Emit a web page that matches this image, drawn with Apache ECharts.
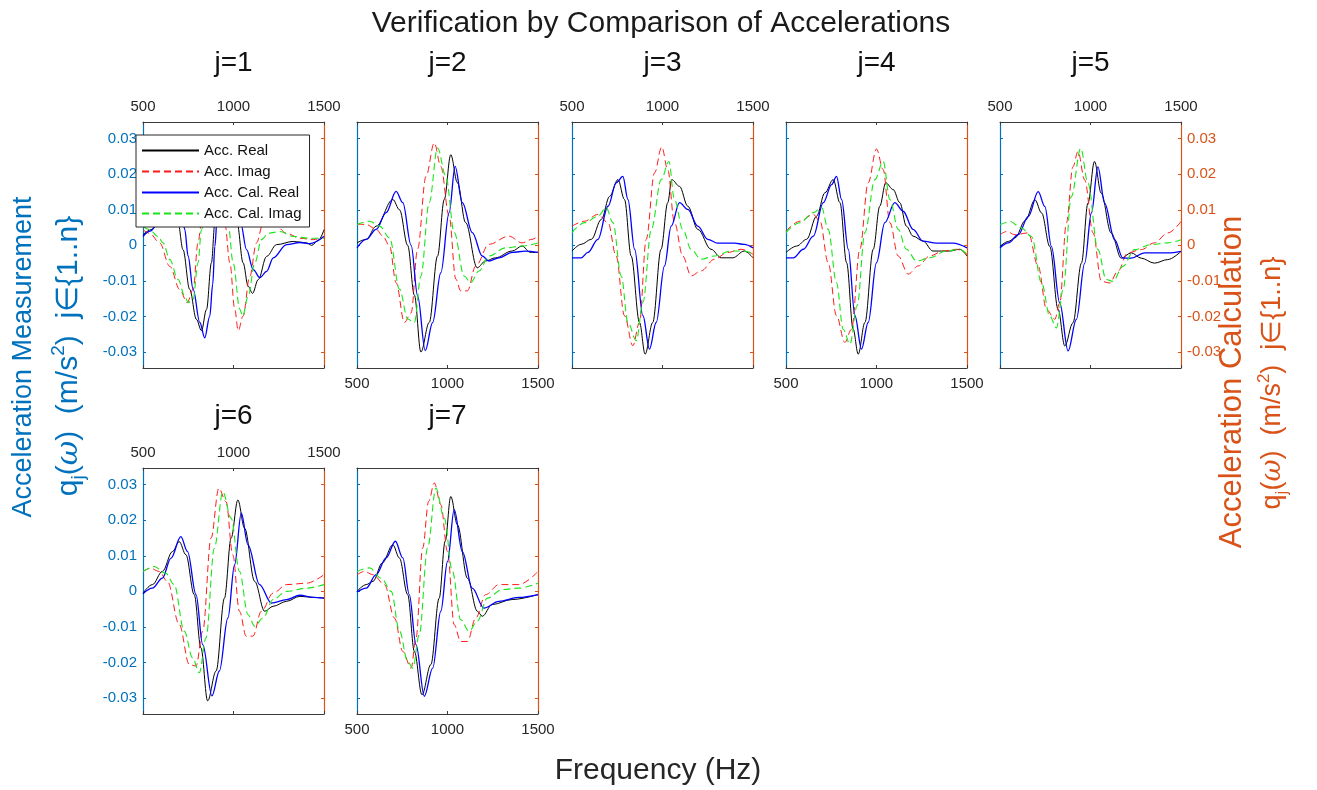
<!DOCTYPE html>
<html>
<head>
<meta charset="utf-8">
<title>Verification by Comparison of Accelerations</title>
<script src="https://cdn.jsdelivr.net/npm/echarts@6/dist/echarts.min.js"></script>
<style>
  html, body { margin: 0; padding: 0; background: #ffffff; }
  #chart { width: 1317px; height: 790px; }
</style>
</head>
<body>
<div id="chart"></div>
<script>
// ---- data: [frequency (Hz), acceleration (m/s^2)] per mode j ----
const realJ1 = [[500,0.0030],[550,0.0045],[600,0.0075],[640,0.0095],[665,0.0100],[694,0.0062],[721,-0.0012],[758,-0.0124],[795,-0.0208],[823,-0.0240],[851,-0.0180],[878,-0.0049],[897,0.0062],[930,0.0180],[960,0.0220],[990,0.0170],[1020,0.0062],[1053,-0.0049],[1081,-0.0115],[1105,-0.0135],[1137,-0.0096],[1183,-0.0031],[1238,0.0002],[1330,0.0011],[1404,0.0007],[1432,0.0000],[1470,0.0015],[1500,0.0044]];
const imagJ1 = [[500,0.0044],[537,0.0034],[592,0.0007],[648,-0.0059],[703,-0.0124],[744,-0.0161],[777,-0.0124],[804,0.0007],[823,0.0062],[850,0.0200],[880,0.0250],[915,0.0200],[952,0.0062],[980,-0.0049],[1007,-0.0180],[1026,-0.0240],[1053,-0.0199],[1090,-0.0087],[1127,0.0007],[1164,0.0062],[1185,0.0072],[1238,0.0053],[1293,0.0034],[1367,0.0020],[1441,0.0016],[1500,0.0025]];
const calRealJ1 = [[500,0.0025],[540,0.0040],[583,0.0062],[630,0.0110],[680,0.0135],[715,0.0090],[731,0.0044],[749,-0.0030],[777,-0.0124],[814,-0.0217],[841,-0.0260],[869,-0.0199],[885,-0.0110],[897,-0.0003],[910,0.0080],[950,0.0200],[985,0.0230],[1015,0.0170],[1040,0.0062],[1072,-0.0012],[1109,-0.0068],[1146,-0.0091],[1183,-0.0073],[1220,-0.0035],[1293,0.0002],[1367,0.0008],[1422,0.0005],[1500,0.0025]];
const calImagJ1 = [[500,0.0053],[537,0.0044],[583,0.0025],[611,0.0007],[648,-0.0040],[694,-0.0096],[731,-0.0143],[749,-0.0161],[777,-0.0152],[804,-0.0049],[823,0.0044],[860,0.0180],[900,0.0230],[940,0.0170],[970,0.0062],[998,-0.0049],[1035,-0.0180],[1050,-0.0199],[1081,-0.0143],[1118,-0.0049],[1155,0.0016],[1192,0.0034],[1256,0.0039],[1330,0.0025],[1422,0.0020],[1500,0.0020]];

const realJ2 = [[500,0.0007],[551,0.0017],[606,0.0054],[698,0.0129],[735,0.0100],[780,0.0000],[817,-0.0140],[853,-0.0300],[899,-0.0217],[945,-0.0030],[982,0.0129],[1018,0.0255],[1055,0.0176],[1100,0.0064],[1164,-0.0063],[1210,-0.0044],[1265,-0.0035],[1357,-0.0016],[1412,-0.0002],[1458,-0.0020],[1500,-0.0020]];
const imagJ2 = [[500,0.0059],[551,0.0059],[606,0.0045],[643,0.0026],[680,-0.0002],[716,-0.0105],[762,-0.0217],[799,-0.0190],[835,-0.0010],[881,0.0194],[927,0.0288],[963,0.0222],[1009,0.0082],[1046,-0.0095],[1073,-0.0128],[1110,-0.0128],[1156,-0.0058],[1229,0.0003],[1339,0.0026],[1412,0.0007],[1467,0.0017],[1500,0.0026]];
const calRealJ2 = [[500,-0.0007],[551,0.0017],[606,0.0045],[661,0.0092],[716,0.0152],[753,0.0120],[799,0.0000],[835,-0.0142],[877,-0.0296],[918,-0.0217],[963,-0.0077],[1009,0.0092],[1042,0.0222],[1082,0.0120],[1137,0.0036],[1192,-0.0030],[1229,-0.0044],[1284,-0.0035],[1357,-0.0020],[1430,-0.0016],[1500,-0.0020]];
const calImagJ2 = [[500,0.0059],[570,0.0068],[625,0.0054],[680,0.0021],[735,-0.0123],[780,-0.0207],[817,-0.0217],[853,-0.0086],[899,0.0120],[945,0.0274],[991,0.0194],[1037,0.0036],[1092,-0.0086],[1128,-0.0105],[1174,-0.0072],[1229,-0.0030],[1320,-0.0007],[1412,-0.0002],[1500,0.0007]];

const realJ3 = [[500,-0.0016],[551,0.0003],[607,0.0017],[662,0.0073],[708,0.0138],[754,0.0185],[790,0.0129],[827,-0.0030],[873,-0.0217],[904,-0.0306],[946,-0.0217],[992,-0.0011],[1029,0.0120],[1051,0.0185],[1094,0.0166],[1140,0.0110],[1195,0.0045],[1268,-0.0011],[1324,-0.0035],[1388,-0.0035],[1452,-0.0016],[1500,-0.0035]];
const imagJ3 = [[500,0.0054],[570,0.0068],[643,0.0087],[699,0.0064],[744,-0.0030],[790,-0.0198],[836,-0.0282],[873,-0.0217],[910,0.0017],[956,0.0204],[996,0.0277],[1029,0.0213],[1066,0.0064],[1112,-0.0030],[1158,-0.0086],[1213,-0.0072],[1287,-0.0039],[1360,-0.0020],[1434,-0.0011],[1500,-0.0025]];
const calRealJ3 = [[500,-0.0035],[551,-0.0035],[588,-0.0020],[643,0.0017],[699,0.0110],[744,0.0176],[781,0.0194],[809,0.0129],[846,-0.0011],[892,-0.0198],[928,-0.0292],[965,-0.0217],[1011,-0.0058],[1048,0.0054],[1094,0.0120],[1140,0.0101],[1195,0.0054],[1250,0.0017],[1305,0.0006],[1397,0.0006],[1452,0.0003],[1500,-0.0007]];
const calImagJ3 = [[500,0.0036],[570,0.0064],[643,0.0082],[689,0.0106],[726,0.0064],[772,-0.0086],[809,-0.0217],[855,-0.0268],[892,-0.0160],[938,0.0045],[993,0.0185],[1035,0.0236],[1066,0.0129],[1112,0.0045],[1158,-0.0011],[1213,-0.0039],[1287,-0.0030],[1379,-0.0016],[1452,-0.0016],[1500,-0.0025]];

const realJ4 = [[500,-0.0020],[559,-0.0002],[614,0.0017],[669,0.0082],[715,0.0148],[761,0.0185],[798,0.0120],[835,-0.0049],[871,-0.0236],[899,-0.0306],[936,-0.0217],[982,-0.0011],[1018,0.0110],[1051,0.0176],[1092,0.0157],[1129,0.0120],[1165,0.0054],[1202,0.0026],[1257,0.0012],[1312,-0.0016],[1404,-0.0016],[1460,-0.0011],[1500,-0.0030]];
const imagJ4 = [[500,0.0040],[577,0.0068],[651,0.0087],[688,0.0068],[733,-0.0049],[779,-0.0198],[825,-0.0273],[862,-0.0236],[908,-0.0011],[954,0.0176],[1000,0.0271],[1037,0.0213],[1074,0.0064],[1120,-0.0030],[1175,-0.0081],[1230,-0.0058],[1294,-0.0030],[1368,-0.0016],[1441,-0.0011],[1500,-0.0025]];
const calRealJ4 = [[500,-0.0035],[540,-0.0035],[596,-0.0011],[651,0.0026],[706,0.0120],[752,0.0171],[779,0.0194],[807,0.0129],[844,-0.0011],[881,-0.0198],[917,-0.0292],[954,-0.0217],[1000,-0.0049],[1046,0.0064],[1101,0.0120],[1147,0.0096],[1202,0.0045],[1257,0.0012],[1331,0.0006],[1423,0.0006],[1500,-0.0007]];
const calImagJ4 = [[500,0.0036],[577,0.0064],[651,0.0092],[697,0.0106],[733,0.0045],[779,-0.0105],[816,-0.0236],[853,-0.0278],[893,-0.0170],[936,0.0036],[991,0.0185],[1037,0.0236],[1074,0.0129],[1120,0.0045],[1165,-0.0011],[1221,-0.0044],[1294,-0.0035],[1386,-0.0016],[1460,-0.0011],[1500,-0.0025]];

const realJ5 = [[500,-0.0003],[546,0.0011],[583,0.0021],[640,0.0070],[693,0.0128],[730,0.0091],[775,-0.0003],[821,-0.0180],[858,-0.0283],[903,-0.0218],[950,-0.0050],[986,0.0119],[1022,0.0236],[1059,0.0147],[1114,0.0035],[1170,-0.0036],[1225,-0.0021],[1280,-0.0036],[1353,-0.0050],[1427,-0.0040],[1500,-0.0017]];
const imagJ5 = [[500,0.0030],[537,0.0039],[583,0.0030],[656,0.0035],[711,-0.0059],[757,-0.0180],[803,-0.0208],[830,-0.0162],[867,0.0063],[903,0.0221],[931,0.0264],[968,0.0184],[1014,0.0035],[1060,-0.0101],[1106,-0.0106],[1151,-0.0073],[1206,-0.0021],[1280,-0.0012],[1353,0.0007],[1427,0.0035],[1500,0.0067]];
const calRealJ5 = [[500,-0.0007],[546,0.0007],[601,0.0030],[656,0.0081],[711,0.0151],[748,0.0109],[784,-0.0003],[830,-0.0162],[876,-0.0297],[922,-0.0208],[968,-0.0050],[1005,0.0091],[1041,0.0221],[1078,0.0119],[1133,0.0016],[1179,-0.0036],[1225,-0.0036],[1298,-0.0021],[1390,-0.0021],[1445,-0.0021],[1500,-0.0017]];
const calImagJ5 = [[500,0.0058],[555,0.0067],[619,0.0049],[674,0.0025],[730,-0.0106],[775,-0.0199],[812,-0.0232],[849,-0.0124],[894,0.0137],[946,0.0273],[986,0.0175],[1041,-0.0012],[1087,-0.0096],[1124,-0.0101],[1179,-0.0059],[1243,-0.0012],[1335,0.0002],[1427,0.0007],[1500,0.0016]];

const realJ6 = [[500,-0.0005],[552,0.0019],[607,0.0056],[663,0.0112],[700,0.0140],[737,0.0103],[783,-0.0009],[820,-0.0159],[857,-0.0308],[904,-0.0224],[950,-0.0019],[987,0.0150],[1024,0.0257],[1061,0.0178],[1117,0.0028],[1172,-0.0056],[1219,-0.0042],[1293,-0.0028],[1367,-0.0014],[1441,-0.0017],[1500,-0.0019]];
const imagJ6 = [[500,0.0056],[543,0.0065],[589,0.0056],[635,0.0028],[700,-0.0093],[756,-0.0206],[793,-0.0210],[830,-0.0112],[876,0.0150],[919,0.0290],[959,0.0252],[996,0.0103],[1033,-0.0056],[1070,-0.0126],[1107,-0.0126],[1154,-0.0056],[1219,-0.0005],[1293,0.0019],[1404,0.0023],[1500,0.0047]];
const calRealJ6 = [[500,-0.0007],[552,0.0009],[607,0.0037],[654,0.0093],[709,0.0154],[746,0.0112],[793,-0.0009],[830,-0.0150],[881,-0.0294],[922,-0.0224],[969,-0.0075],[1006,0.0075],[1043,0.0220],[1080,0.0131],[1144,0.0019],[1209,-0.0033],[1293,-0.0023],[1367,-0.0011],[1441,-0.0017],[1500,-0.0019]];
const calImagJ6 = [[500,0.0056],[561,0.0070],[626,0.0051],[672,0.0019],[728,-0.0112],[774,-0.0187],[811,-0.0229],[848,-0.0131],[894,0.0121],[941,0.0280],[987,0.0206],[1033,0.0056],[1080,-0.0065],[1117,-0.0098],[1163,-0.0075],[1219,-0.0023],[1293,0.0000],[1404,0.0009],[1500,0.0019]];

const realJ7 = [[500,0.0000],[551,0.0019],[588,0.0028],[640,0.0080],[698,0.0131],[734,0.0094],[780,-0.0009],[817,-0.0169],[859,-0.0291],[908,-0.0206],[954,-0.0019],[987,0.0141],[1018,0.0267],[1055,0.0187],[1110,0.0037],[1165,-0.0056],[1192,-0.0070],[1247,-0.0037],[1357,-0.0023],[1500,-0.0009]];
const imagJ7 = [[500,0.0047],[542,0.0056],[588,0.0047],[652,0.0019],[707,-0.0075],[753,-0.0169],[799,-0.0216],[826,-0.0131],[863,0.0122],[896,0.0253],[927,0.0305],[963,0.0244],[1000,0.0112],[1037,-0.0094],[1073,-0.0141],[1110,-0.0141],[1156,-0.0075],[1211,-0.0009],[1284,0.0019],[1394,0.0019],[1500,0.0056]];
const calRealJ7 = [[500,-0.0002],[551,0.0009],[606,0.0047],[661,0.0094],[712,0.0141],[753,0.0094],[789,-0.0009],[826,-0.0150],[872,-0.0295],[918,-0.0216],[963,-0.0056],[1000,0.0084],[1037,0.0230],[1082,0.0112],[1137,0.0009],[1201,-0.0047],[1284,-0.0028],[1394,-0.0017],[1500,-0.0009]];
const calImagJ7 = [[500,0.0056],[570,0.0066],[634,0.0037],[689,0.0000],[735,-0.0112],[780,-0.0197],[808,-0.0216],[844,-0.0122],[890,0.0122],[936,0.0290],[982,0.0206],[1027,0.0056],[1073,-0.0080],[1119,-0.0112],[1165,-0.0084],[1220,-0.0019],[1302,0.0005],[1394,0.0009],[1500,0.0023]];

// ---- labels and ticks ----
const panelTitles = ['j=1', 'j=2', 'j=3', 'j=4', 'j=5', 'j=6', 'j=7'];
const seriesNames = ['Acc. Real', 'Acc. Imag', 'Acc. Cal. Real', 'Acc. Cal. Imag'];
const freqTicks = [500, 1000, 1500];
const ampTicks = [-0.03, -0.02, -0.01, 0, 0.01, 0.02, 0.03];

const panelData = [
  [realJ1, imagJ1, calRealJ1, calImagJ1],
  [realJ2, imagJ2, calRealJ2, calImagJ2],
  [realJ3, imagJ3, calRealJ3, calImagJ3],
  [realJ4, imagJ4, calRealJ4, calImagJ4],
  [realJ5, imagJ5, calRealJ5, calImagJ5],
  [realJ6, imagJ6, calRealJ6, calImagJ6],
  [realJ7, imagJ7, calRealJ7, calImagJ7]
];

// ---- styling ----
const FONT = 'Liberation Sans, Arial, Helvetica, sans-serif';
const INK = '#262626';
const MEAS = '#0072BD';
const CALC = '#D95319';
const lineColors = ['#000000', '#ff1a1a', '#0000ff', '#19e619'];
const lineTypes = ['solid', [7, 4], 'solid', [7, 4]];
const lineWidths = [1, 1, 1.3, 1.1];

// ---- panel layout (pixels) ----
const colLeft = [143, 357, 572, 786, 1000];
const rowTop = [122, 468];
const panelW = 181;
const panelH = 246;
const panelCell = [[0, 0], [0, 1], [0, 2], [0, 3], [0, 4], [1, 0], [1, 1]];
const freqLabelTop = [true, false, true, false, true, true, false];
const ampLabelLeft = [true, false, false, false, false, true, false];
const ampLabelRight = [false, false, false, false, true, false, false];
const ampMin = -0.0345;
const ampMax = 0.0347;

const grids = [], xAxes = [], yAxes = [], series = [], titles = [];

panelCell.forEach(([r, c], k) => {
  const left = colLeft[c], top = rowTop[r];
  grids.push({ left: left, top: top, width: panelW, height: panelH, containLabel: false });

  const freqAxis = (pos, showLabels) => ({
    gridIndex: k, type: 'value', position: pos,
    min: freqTicks[0], max: freqTicks[freqTicks.length - 1], interval: freqTicks[1] - freqTicks[0],
    axisLine: { show: true, onZero: false, lineStyle: { color: '#3a3a3a', width: 1 } },
    axisTick: { show: true, inside: true, length: 3, lineStyle: { color: '#3a3a3a' } },
    axisLabel: { show: showLabels, margin: 8, color: INK, fontSize: 15, fontFamily: FONT, formatter: v => String(v) },
    splitLine: { show: false }
  });
  xAxes.push(freqAxis('bottom', !freqLabelTop[k]));
  xAxes.push(freqAxis('top', freqLabelTop[k]));

  const ampAxis = (pos, color, showLabels) => ({
    gridIndex: k, type: 'value', position: pos, min: ampMin, max: ampMax,
    axisLine: { show: true, onZero: false, lineStyle: { color: color, width: 1.2 } },
    axisTick: { show: true, inside: true, length: 3, customValues: ampTicks, lineStyle: { color: color } },
    axisLabel: {
      show: showLabels, customValues: ampTicks, margin: 6, color: color, fontSize: 15, fontFamily: FONT,
      formatter: v => String(Math.round(v * 100) / 100)
    },
    splitLine: { show: false }
  });
  yAxes.push(ampAxis('left', MEAS, ampLabelLeft[k]));
  yAxes.push(ampAxis('right', CALC, ampLabelRight[k]));

  panelData[k].forEach((data, s) => {
    series.push({
      name: seriesNames[s], type: 'line',
      xAxisIndex: 2 * k, yAxisIndex: 2 * k,
      data: data, symbol: 'none', showSymbol: false,
      smooth: 0.35, smoothMonotone: 'x',
      lineStyle: { color: lineColors[s], width: lineWidths[s], type: lineTypes[s] },
      itemStyle: { color: lineColors[s] },
      clip: true, silent: true, z: 2 + s * 0.01
    });
  });

  titles.push({
    text: panelTitles[k], left: left + panelW / 2, top: r === 0 ? 49 : 402,
    textAlign: 'center', padding: 0,
    textStyle: { fontSize: 28, fontWeight: 'normal', color: '#111111', fontFamily: FONT }
  });
});

titles.push({
  text: 'Verification by Comparison of Accelerations', left: 661, top: 9,
  textAlign: 'center', padding: 0,
  textStyle: { fontSize: 30, fontWeight: 'normal', color: '#1a1a1a', fontFamily: FONT }
});

// rotated axis captions with subscript / superscript
const captionRich = (color, size) => ({
  s: { fontSize: Math.round(size * 0.62), lineHeight: Math.round(size * 0.62), verticalAlign: 'bottom', fill: color, fontFamily: FONT },
  p: { fontSize: Math.round(size * 0.62), lineHeight: Math.round(size * 0.62), verticalAlign: 'top', fill: color, fontFamily: FONT },
  w: { fontSize: size, lineHeight: Math.round(size * 1.3), fontStyle: 'italic', fontFamily: 'DejaVu Serif, serif', fill: color }
});
const symbolLine = 'q{s|j}({w|\u03c9})  (m/s{p|2})  j\u2208{1..n}';

const graphics = [
  { type: 'text', x: 24, y: 357, rotation: Math.PI / 2,
    style: { text: 'Acceleration Measurement', fill: MEAS, fontSize: 27, fontFamily: FONT, align: 'center', verticalAlign: 'middle' } },
  { type: 'text', x: 69, y: 356, rotation: Math.PI / 2,
    style: { text: symbolLine, fill: MEAS, fontSize: 30, lineHeight: 38, fontFamily: FONT, align: 'center', verticalAlign: 'middle', rich: captionRich(MEAS, 30) } },
  { type: 'text', x: 1232, y: 382, rotation: Math.PI / 2,
    style: { text: 'Acceleration Calculation', fill: CALC, fontSize: 31, fontFamily: FONT, align: 'center', verticalAlign: 'middle' } },
  { type: 'text', x: 1273, y: 383, rotation: Math.PI / 2,
    style: { text: symbolLine, fill: CALC, fontSize: 27, lineHeight: 35, fontFamily: FONT, align: 'center', verticalAlign: 'middle', rich: captionRich(CALC, 27) } },
  { type: 'text', x: 658, y: 771,
    style: { text: 'Frequency (Hz)', fill: INK, fontSize: 30, fontFamily: FONT, align: 'center', verticalAlign: 'middle' } }
];

const chart = echarts.init(document.getElementById('chart'), null, { renderer: 'canvas' });
chart.setOption({
  animation: false,
  backgroundColor: '#ffffff',
  textStyle: { fontFamily: FONT },
  title: titles,
  legend: {
    data: seriesNames, orient: 'vertical', left: 136, top: 135,
    itemWidth: 57, itemHeight: 14, itemGap: 6,
    padding: [8, 8, 6, 5],
    backgroundColor: '#ffffff', borderColor: '#262626', borderWidth: 1,
    itemStyle: { opacity: 0 },
    textStyle: { fontSize: 15, color: '#111111', fontFamily: FONT },
    selectedMode: false, z: 10
  },
  grid: grids,
  xAxis: xAxes,
  yAxis: yAxes,
  series: series,
  graphic: graphics
});
</script>
</body>
</html>
